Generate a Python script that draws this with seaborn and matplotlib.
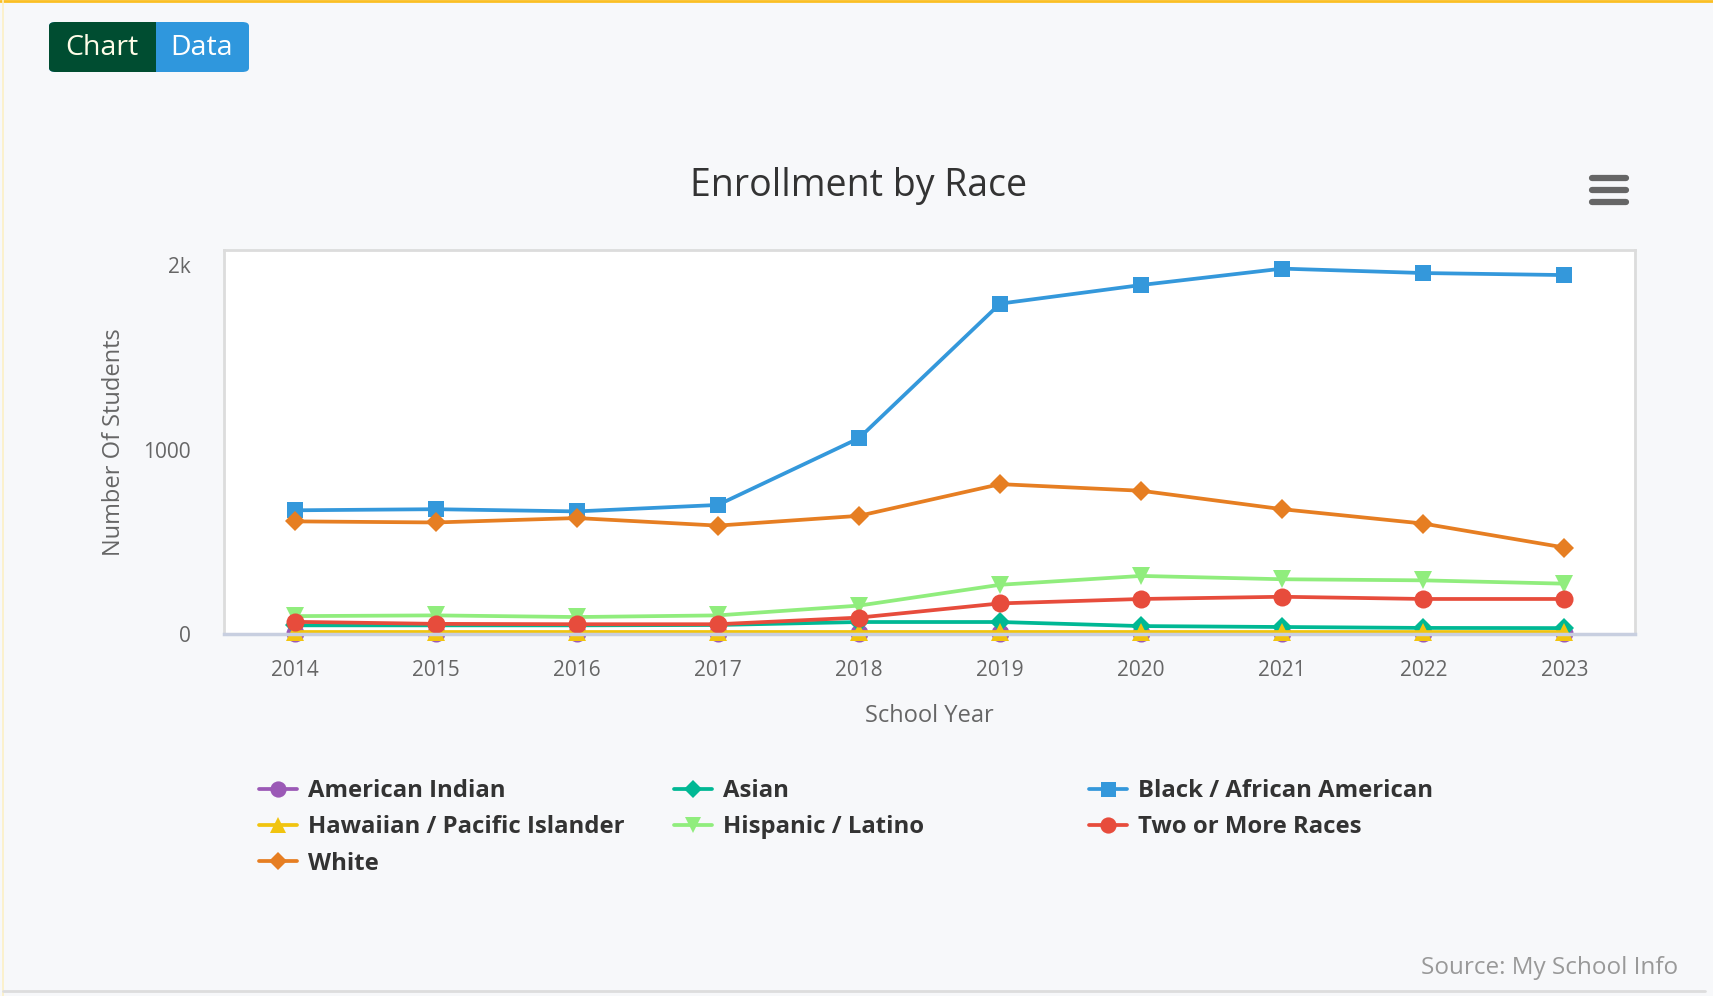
import matplotlib
matplotlib.use("Agg")
import matplotlib.pyplot as plt
from matplotlib.lines import Line2D
from matplotlib.patches import FancyBboxPatch, Rectangle
import pandas as pd
import seaborn as sns

# Data
years = [2014, 2015, 2016, 2017, 2018, 2019, 2020, 2021, 2022, 2023]
american_indian = [3, 3, 3, 3, 3, 3, 3, 3, 3, 3]
asian = [47, 47, 47, 49, 65, 65, 43, 38, 33, 32]
black = [671, 677, 665, 700, 1062, 1792, 1893, 1982, 1958, 1947]
hawaiian = [12, 12, 12, 12, 12, 12, 12, 12, 12, 12]
hispanic = [97, 101, 92, 101, 154, 267, 315, 297, 291, 273]
two_or_more = [66, 55, 53, 53, 89, 166, 190, 202, 190, 190]
white = [611, 605, 629, 588, 641, 813, 777, 677, 599, 469]

series_names = [
    "American Indian",
    "Asian",
    "Black / African American",
    "Hawaiian / Pacific Islander",
    "Hispanic / Latino",
    "Two or More Races",
    "White",
]
series_values = [american_indian, asian, black, hawaiian, hispanic, two_or_more, white]

colors = ["#9b59b6", "#00b894", "#3498db", "#f1c40f", "#90ed7d", "#e74c3c", "#e67e22"]
markers = ["o", "D", "s", "^", "v", "o", "D"]
marker_sizes = [13, 10, 12, 13, 13, 13, 10]

df = pd.DataFrame(
    [(name, y, v) for name, vals in zip(series_names, series_values) for y, v in zip(years, vals)],
    columns=["race", "year", "students"],
)

sns.set_theme(style="white")
plt.rcParams["font.family"] = ["Open Sans", "DejaVu Sans"]

bg = "#f7f8fa"
fig = plt.figure(figsize=(17.13, 9.96), dpi=100, facecolor=bg)
W, H = 1713, 996


def fx(px):
    return px / W


def fy(py):
    return 1 - py / H


ax = fig.add_axes([fx(224), fy(634), fx(1635) - fx(224), fy(250) - fy(634)])
ax.set_facecolor("white")

sns.lineplot(
    data=df,
    x="year",
    y="students",
    hue="race",
    hue_order=series_names,
    palette=dict(zip(series_names, colors)),
    style="race",
    style_order=series_names,
    markers=dict(zip(series_names, markers)),
    dashes=False,
    linewidth=2.7,
    markeredgewidth=0,
    legend=False,
    ax=ax,
)
for line, ms in zip(ax.get_lines(), marker_sizes):
    line.set_markersize(ms)
    line.set_clip_on(False)

ax.set_xlim(2013.5, 2023.5)
ax.set_ylim(0, 2083)
ax.set_xticks(years)
ax.set_xticklabels([str(y) for y in years])
ax.set_yticks([0, 1000, 2000])
ax.set_yticklabels(["0", "1000", "2k"])
ax.tick_params(axis="both", length=0, labelsize=15, colors="#666666")
ax.tick_params(axis="x", pad=19)
ax.tick_params(axis="y", pad=24)
for side in ["top", "left", "right"]:
    ax.spines[side].set_color("#dcdcdc")
    ax.spines[side].set_linewidth(2)
ax.spines["bottom"].set_color("#c8cfe0")
ax.spines["bottom"].set_linewidth(2.5)

ax.set_xlabel("School Year", fontsize=17, color="#666666", labelpad=16)
ax.set_ylabel("Number Of Students", fontsize=17, color="#666666", labelpad=12)

fig.text(fx(859), fy(186), "Enrollment by Race", ha="center", va="center",
         fontsize=27, color="#333333")

# Legend: three columns laid out row-wise as in the reference
legend_cols = [[0, 3, 6], [1, 4], [2, 5]]
legend_x = [259, 674, 1089]
for col, x0 in zip(legend_cols, legend_x):
    handles = [
        Line2D([], [], color=colors[i], marker=markers[i], markersize=marker_sizes[i] * 0.9,
               markeredgewidth=0, linewidth=2.7)
        for i in col
    ]
    leg = fig.legend(
        handles,
        [series_names[i] for i in col],
        loc="upper left",
        bbox_to_anchor=(fx(x0), fy(779)),
        frameon=False,
        handlelength=1.6,
        handletextpad=0.45,
        labelspacing=0.52,
        borderaxespad=0,
        borderpad=0,
        prop={"size": 17.2, "weight": "bold"},
    )
    for t in leg.get_texts():
        t.set_color("#333333")

fig.text(fx(1678), fy(968), "Source: My School Info", ha="right", va="center",
         fontsize=17.5, color="#999999")

# Chart / Data toggle buttons
fig.patches.append(FancyBboxPatch((fx(49), fy(72)), fx(200), fy(22) - fy(72),
                                  boxstyle="round,pad=0,rounding_size=0.004",
                                  transform=fig.transFigure, facecolor="#2f97dd",
                                  edgecolor="none"))
fig.patches.append(FancyBboxPatch((fx(49), fy(72)), fx(107), fy(22) - fy(72),
                                  boxstyle="round,pad=0,rounding_size=0.004",
                                  transform=fig.transFigure, facecolor="#004d31",
                                  edgecolor="none"))
fig.patches.append(Rectangle((fx(146), fy(72)), fx(10), fy(22) - fy(72),
                             transform=fig.transFigure, facecolor="#004d31",
                             edgecolor="none"))
fig.text(fx(102), fy(48), "Chart", ha="center", va="center", fontsize=20.5, color="#fffde8")
fig.text(fx(202), fy(48), "Data", ha="center", va="center", fontsize=20.5, color="#ffffff")

# Menu icon
for py in [178, 190, 202]:
    fig.add_artist(Line2D([fx(1592), fx(1626)], [fy(py), fy(py)], color="#666666",
                          linewidth=4.5, solid_capstyle="round"))

# Page borders
fig.add_artist(Line2D([0, 1], [fy(1), fy(1)], color="#fbbf24", linewidth=2))
fig.add_artist(Line2D([fx(3), fx(3)], [0, 1], color="#fdf0c4", linewidth=1.2))
fig.add_artist(Line2D([fx(3), fx(1705)], [fy(991), fy(991)], color="#dddddd", linewidth=2))

fig.savefig("out.png", dpi=100, facecolor=bg)
